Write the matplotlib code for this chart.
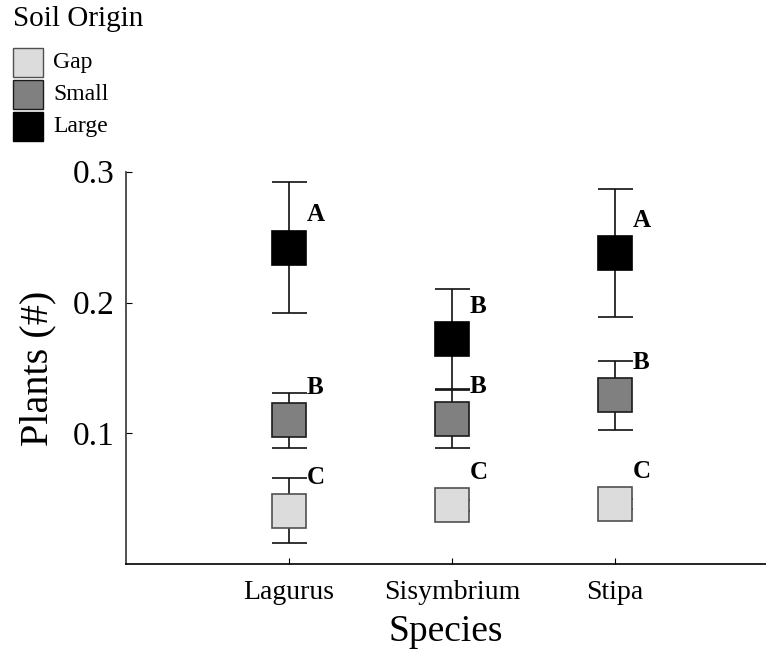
"""Plants per pot by species and soil origin (mean +/- SE)."""
import matplotlib
matplotlib.use("Agg")
import matplotlib.pyplot as plt
from matplotlib.patches import Rectangle

matplotlib.rcParams.update({
    "font.family": "Liberation Serif",
    "axes.linewidth": 1.2,
    "xtick.direction": "in", "ytick.direction": "in",
    "xtick.major.size": 4, "ytick.major.size": 4,
})
SERIF = "Liberation Serif"

species = ["Lagurus", "Sisymbrium", "Stipa"]
origins = ["Gap", "Small", "Large"]

gap_mean = [0.041, 0.045, 0.046]
gap_se = [0.025, 0.004, 0.004]
small_mean = [0.110, 0.111, 0.129]
small_se = [0.021, 0.022, 0.026]
large_mean = [0.242, 0.172, 0.238]
large_se = [0.050, 0.038, 0.049]

gap_letters = ["C", "C", "C"]
small_letters = ["B", "B", "B"]
large_letters = ["A", "B", "A"]

fill = {"Gap": "#dcdcdc", "Small": "#808080", "Large": "#000000"}
edge = {"Gap": "#505050", "Small": "#1a1a1a", "Large": "#000000"}

W, H = 766, 652
fig = plt.figure(figsize=(W / 100, H / 100), dpi=100)
ax = fig.add_axes([126 / W, 87.7 / H, 640 / W, 392.6 / H])

x = [1, 2, 3]
series = [
    ("Gap", gap_mean, gap_se, gap_letters),
    ("Small", small_mean, small_se, small_letters),
    ("Large", large_mean, large_se, large_letters),
]
for name, mean, se, letters in series:
    ax.errorbar(x, mean, yerr=se, fmt="none", ecolor="#111111",
                elinewidth=1.2, capsize=12.6, capthick=1.2, zorder=2)
    ax.plot(x, mean, "s", markersize=25, markerfacecolor=fill[name],
            markeredgecolor=edge[name], markeredgewidth=1.2,
            linestyle="none", zorder=3)
    for xi, m, lab in zip(x, mean, letters):
        ax.text(xi + 0.11, m + 0.025, lab, fontsize=18, fontweight="bold",
                family=SERIF, ha="left", va="center", zorder=4)

ax.set_xlim(0, 640 / 163)
ax.set_ylim(0, 0.3)
ax.set_xticks(x)
ax.set_xticklabels(species, fontsize=20, family=SERIF)
ax.set_yticks([0.1, 0.2, 0.3])
ax.set_yticklabels(["0.1", "0.2", "0.3"], fontsize=24, family=SERIF)
ax.tick_params(axis="x", pad=11)
ax.tick_params(axis="y", pad=8)
ax.spines["top"].set_visible(False)
ax.spines["right"].set_visible(False)
ax.spines["left"].set_color("#333333")

ax.set_xlabel("Species", fontsize=27, labelpad=7, family=SERIF)
ax.set_ylabel("Plants (#)", fontsize=29, labelpad=12, family=SERIF)

# legend drawn by hand in figure pixels (top-left corner)
fig.text(13 / W, 1 - 19 / H, "Soil Origin", fontsize=21, family=SERIF,
         ha="left", va="center")
for i, o in enumerate(origins):
    top = 48 + i * 32
    fig.add_artist(Rectangle((13 / W, 1 - (top + 29) / H), 30 / W, 29 / H,
                             transform=fig.transFigure, facecolor=fill[o],
                             edgecolor=edge[o], linewidth=1.0))
    fig.text(53 / W, 1 - (top + 14.5) / H, o, fontsize=17, family=SERIF,
             ha="left", va="center")

fig.savefig("out.png", dpi=100)
